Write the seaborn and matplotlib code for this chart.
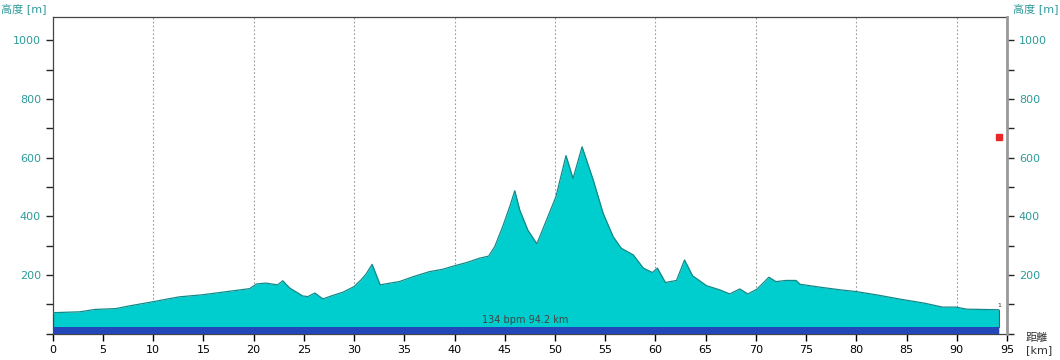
import matplotlib
matplotlib.use('Agg')
import matplotlib.pyplot as plt
import seaborn as sns
import pandas as pd
from matplotlib.ticker import MultipleLocator

# --- データ ---
dist_km = [0, 2.7, 4.2, 6.3, 7.6, 9.6, 12.6, 14.9, 16.9, 19.6, 20.3, 21.2, 22.4, 22.9, 23.6,
           24.9, 25.4, 26.1, 26.9, 27.9, 28.9, 30.0, 30.7, 31.2, 31.8, 32.6, 33.6, 34.5, 35.9,
           37.5, 38.8, 40.0, 41.2, 42.5, 43.4, 44.0, 44.8, 45.5, 46.0, 46.5, 47.3, 48.2, 49.1,
           50.1, 51.1, 51.8, 52.7, 53.8, 54.8, 55.8, 56.6, 57.8, 58.8, 59.7, 60.2, 61.0, 62.1,
           62.9, 63.7, 65.1, 66.4, 67.4, 68.4, 69.2, 70.1, 71.3, 72.0, 73.0, 74.0, 74.4, 76.4,
           78.4, 80.0, 82.0, 84.4, 86.7, 88.6, 89.9, 91.0, 94.2]
elev_m = [71, 74, 82, 85, 94, 106, 125, 132, 141, 153, 169, 172, 166, 180, 155,
          128, 126, 138, 118, 130, 141, 160, 183, 203, 236, 166, 172, 177, 194,
          211, 219, 231, 242, 257, 264, 296, 365, 433, 487, 421, 353, 306, 382,
          467, 607, 529, 637, 525, 410, 330, 291, 268, 223, 208, 223, 174, 181,
          251, 197, 163, 149, 135, 152, 135, 151, 192, 177, 181, 181, 168, 158,
          149, 143, 132, 117, 104, 90, 90, 83, 81]
band_top_m = 22          # 下部の青い帯
marker_km, marker_m = 94.2, 670
info_text = '134 bpm 94.2 km'

TEAL = '#2f9a9a'
df = pd.DataFrame({'距離': dist_km, '高度': elev_m})

sns.set_style('white')
plt.rcParams['font.family'] = ['DejaVu Sans', 'Noto Sans CJK JP']

fig = plt.figure(figsize=(10.6, 3.6), dpi=100)
ax = fig.add_axes([0.0497, 0.0736, 0.9003, 0.8794])

ax.fill_between(df['距離'], 0, df['高度'], color='#00cdcd', lw=0, zorder=2)
sns.lineplot(data=df, x='距離', y='高度', ax=ax, color='#128888', lw=0.9, zorder=3)
ax.fill_between([0, dist_km[-1]], 0, band_top_m, color='#2346b8', lw=0, zorder=4)
ax.plot([dist_km[-1]] * 2, [band_top_m, elev_m[-1]], color='#e02020', lw=0.8, zorder=5)
ax.plot(marker_km, marker_m, 's', color='#e82828', ms=4, zorder=6)
ax.text(dist_km[-1], elev_m[-1] + 6, '1', fontsize=4.5, ha='center', va='bottom', color='#333333')
ax.text(47, 28, info_text, fontsize=7, ha='center', va='bottom', color='#444444', zorder=6)

ax.set_xlim(0, 95)
ax.set_ylim(0, 1080)
ax.set_xlabel('')
ax.set_ylabel('')
ax.xaxis.set_major_locator(MultipleLocator(5))
ax.set_yticks([200, 400, 600, 800, 1000])
ax.yaxis.set_minor_locator(MultipleLocator(100))
for x in range(10, 95, 10):
    ax.axvline(x, color='#9a9a9a', ls=(0, (1.5, 2)), lw=0.8, zorder=1)

ax.tick_params(axis='x', which='major', direction='out', length=5, width=1,
               labelsize=8, colors='black', bottom=True)
ax.tick_params(axis='y', which='both', direction='out', length=5, width=1,
               labelsize=8, labelcolor=TEAL, left=True)
for s in ('left', 'top', 'bottom'):
    ax.spines[s].set_color('#444444')
    ax.spines[s].set_linewidth(0.9)
ax.spines['right'].set_visible(False)

ax2 = ax.twinx()
ax2.set_ylim(ax.get_ylim())
ax2.set_yticks([200, 400, 600, 800, 1000])
ax2.yaxis.set_minor_locator(MultipleLocator(100))
ax2.tick_params(axis='y', which='both', direction='out', length=5, width=1,
                labelsize=8, labelcolor=TEAL, right=True)
ax2.spines['right'].set_color('#999999')
ax2.spines['right'].set_linewidth(2)
for s in ('left', 'top', 'bottom'):
    ax2.spines[s].set_visible(False)
ax2.grid(False)

fig.text(0.001, 0.975, '高度 [m]', color=TEAL, fontsize=8, ha='left', va='center')
fig.text(0.999, 0.975, '高度 [m]', color=TEAL, fontsize=8, ha='right', va='center')
fig.text(0.968, 0.075, '距離\n[km]', color='#333333', fontsize=8, ha='left', va='top',
         linespacing=1.3)

fig.savefig('out.png', dpi=100)
